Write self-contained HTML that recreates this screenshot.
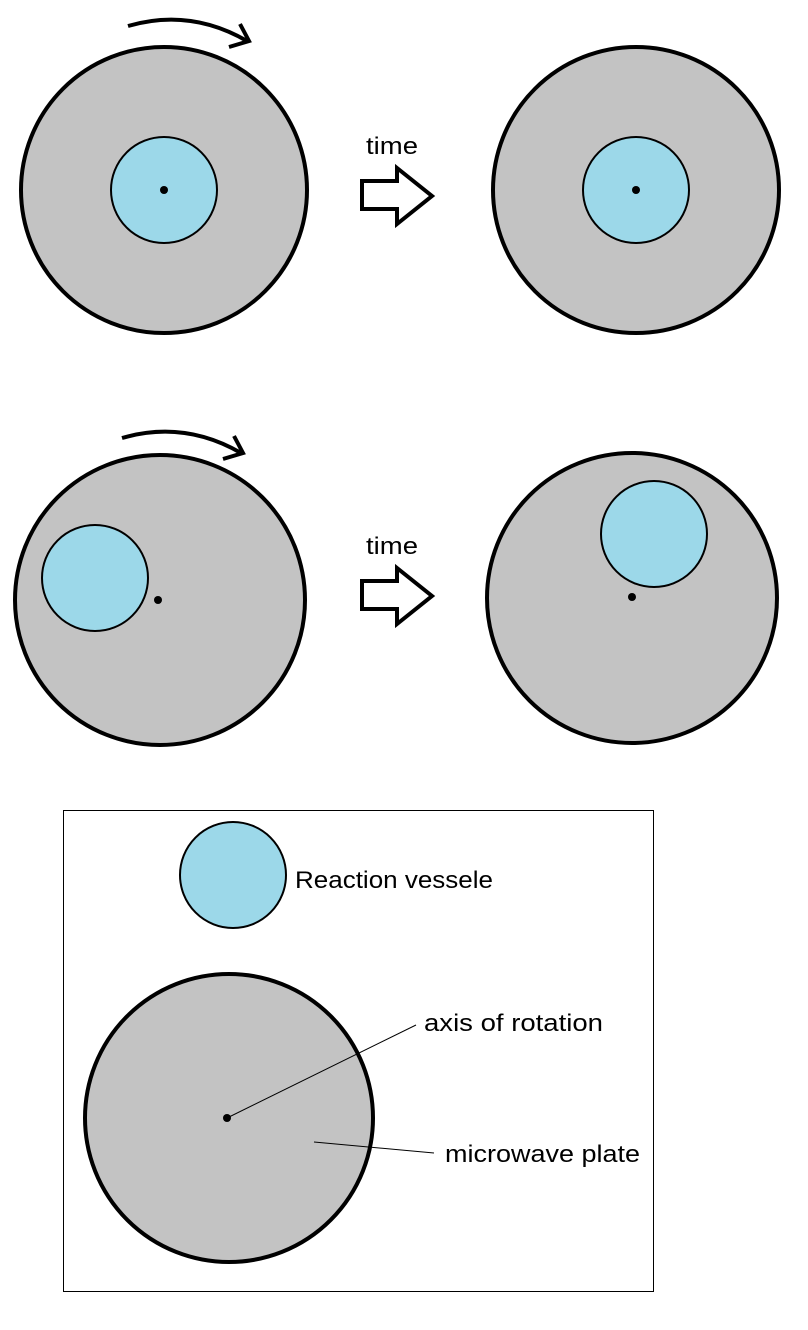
<!DOCTYPE html>
<html><head><style>html,body{margin:0;padding:0;background:#fff}svg{display:block}</style></head>
<body>
<svg width="808" height="1330" viewBox="0 0 808 1330" xmlns="http://www.w3.org/2000/svg" font-family="'Liberation Sans', sans-serif" font-size="24">
<!-- top row -->
<circle cx="164" cy="190" r="143" fill="#c3c3c3" stroke="#000" stroke-width="4"/>
<circle cx="164" cy="190" r="53" fill="#9cd8e9" stroke="#000" stroke-width="2"/>
<circle cx="164" cy="190" r="4" fill="#000"/>
<path d="M128 26 Q190 8 247 41" fill="none" stroke="#000" stroke-width="4"/>
<path d="M240 24 L249 41 L229 47" fill="none" stroke="#000" stroke-width="4"/>
<text x="366" y="154" textLength="52" lengthAdjust="spacingAndGlyphs">time</text>
<path d="M362 181 L397 181 L397 168 L432 196 L397 224 L397 209 L362 209 Z" fill="#fff" stroke="#000" stroke-width="4"/>
<circle cx="636" cy="190" r="143" fill="#c3c3c3" stroke="#000" stroke-width="4"/>
<circle cx="636" cy="190" r="53" fill="#9cd8e9" stroke="#000" stroke-width="2"/>
<circle cx="636" cy="190" r="4" fill="#000"/>
<!-- middle row -->
<circle cx="160" cy="600" r="145" fill="#c3c3c3" stroke="#000" stroke-width="4"/>
<circle cx="95" cy="578" r="53" fill="#9cd8e9" stroke="#000" stroke-width="2"/>
<circle cx="158" cy="600" r="4" fill="#000"/>
<path d="M122 438 Q184 420 241 453" fill="none" stroke="#000" stroke-width="4"/>
<path d="M234 436 L243 453 L223 459" fill="none" stroke="#000" stroke-width="4"/>
<text x="366" y="554" textLength="52" lengthAdjust="spacingAndGlyphs">time</text>
<path d="M362 581 L397 581 L397 568 L432 596 L397 624 L397 609 L362 609 Z" fill="#fff" stroke="#000" stroke-width="4"/>
<circle cx="632" cy="598" r="145" fill="#c3c3c3" stroke="#000" stroke-width="4"/>
<circle cx="654" cy="534" r="53" fill="#9cd8e9" stroke="#000" stroke-width="2"/>
<circle cx="632" cy="597" r="4" fill="#000"/>
<!-- legend -->
<rect x="63.5" y="810.5" width="590" height="481" fill="none" stroke="#000" stroke-width="1"/>
<circle cx="233" cy="875" r="53" fill="#9cd8e9" stroke="#000" stroke-width="2"/>
<text x="295" y="888" textLength="198" lengthAdjust="spacingAndGlyphs">Reaction vessele</text>
<circle cx="229" cy="1118" r="144" fill="#c3c3c3" stroke="#000" stroke-width="4"/>
<circle cx="227" cy="1118" r="4" fill="#000"/>
<line x1="227" y1="1118" x2="416" y2="1025" stroke="#000" stroke-width="1"/>
<text x="424" y="1031" textLength="179" lengthAdjust="spacingAndGlyphs">axis of rotation</text>
<line x1="314" y1="1142" x2="434" y2="1153" stroke="#000" stroke-width="1"/>
<text x="445" y="1162" textLength="195" lengthAdjust="spacingAndGlyphs">microwave plate</text>
</svg>
</body></html>
